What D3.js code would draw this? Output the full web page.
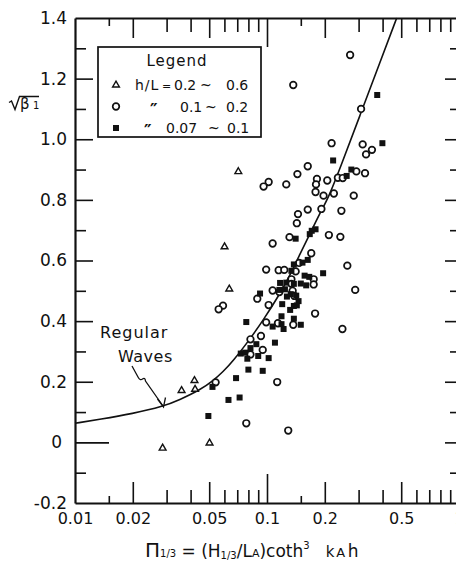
<!DOCTYPE html>
<html>
<head>
<meta charset="utf-8">
<script src="https://cdn.jsdelivr.net/npm/d3@7"></script>
<style>
  html, body { margin: 0; padding: 0; background: #fff; }
  svg text { font-family: "DejaVu Sans", sans-serif; fill: #111; }
</style>
</head>
<body>
<svg id="chart" width="456" height="562"></svg>
<script>
// ---- data: [Π1/3, √β1] -------------------------------------------------
// h/L = 0.2 ~ 0.6
const trianglePts = [
  [0.0709, 0.893], [0.0601, 0.645], [0.0636, 0.506], [0.0419, 0.204],
  [0.0359, 0.171], [0.0422, 0.175], [0.0502, -0.002], [0.0286, -0.019]
];
// h/L = 0.1 ~ 0.2
const circlePts = [
  [0.271, 1.278], [0.137, 1.179], [0.309, 1.100], [0.217, 0.987], [0.315, 0.983],
  [0.352, 0.965], [0.328, 0.950], [0.163, 0.911], [0.144, 0.885], [0.292, 0.894],
  [0.324, 0.888], [0.234, 0.873], [0.248, 0.872], [0.102, 0.859], [0.096, 0.844],
  [0.126, 0.851], [0.182, 0.869], [0.180, 0.851], [0.206, 0.864], [0.179, 0.826],
  [0.197, 0.814], [0.223, 0.821], [0.283, 0.814], [0.145, 0.753], [0.163, 0.768],
  [0.192, 0.770], [0.244, 0.764], [0.143, 0.723], [0.131, 0.677], [0.210, 0.684],
  [0.241, 0.678], [0.107, 0.656], [0.170, 0.624], [0.147, 0.592], [0.262, 0.583],
  [0.099, 0.570], [0.115, 0.568], [0.123, 0.569], [0.141, 0.564], [0.175, 0.538],
  [0.175, 0.521], [0.134, 0.538], [0.134, 0.523], [0.288, 0.503], [0.107, 0.501],
  [0.116, 0.496], [0.136, 0.500], [0.089, 0.474], [0.139, 0.483], [0.059, 0.451],
  [0.056, 0.439], [0.102, 0.453], [0.178, 0.425], [0.099, 0.396], [0.114, 0.393],
  [0.137, 0.388], [0.247, 0.374], [0.093, 0.351], [0.082, 0.340], [0.095, 0.305],
  [0.082, 0.290], [0.054, 0.198], [0.113, 0.199], [0.078, 0.063], [0.129, 0.039]
];
// h/L = 0.07 ~ 0.1
const squarePts = [
  [0.375, 1.146], [0.399, 0.987], [0.221, 0.930], [0.275, 0.900], [0.260, 0.879],
  [0.179, 0.703], [0.171, 0.698], [0.167, 0.687], [0.141, 0.672], [0.163, 0.602],
  [0.153, 0.593], [0.138, 0.587], [0.134, 0.566], [0.196, 0.558], [0.157, 0.550],
  [0.166, 0.546], [0.117, 0.526], [0.126, 0.527], [0.150, 0.524], [0.160, 0.518],
  [0.138, 0.523], [0.116, 0.503], [0.124, 0.505], [0.133, 0.489], [0.142, 0.484],
  [0.092, 0.491], [0.127, 0.481], [0.146, 0.466], [0.143, 0.452], [0.138, 0.450],
  [0.120, 0.456], [0.132, 0.437], [0.119, 0.416], [0.138, 0.408], [0.078, 0.397],
  [0.107, 0.382], [0.119, 0.390], [0.122, 0.374], [0.150, 0.388], [0.088, 0.324],
  [0.110, 0.329], [0.073, 0.293], [0.077, 0.296], [0.082, 0.311], [0.079, 0.276],
  [0.090, 0.285], [0.102, 0.278], [0.080, 0.240], [0.095, 0.236], [0.069, 0.212],
  [0.052, 0.183], [0.063, 0.140], [0.072, 0.148], [0.0495, 0.087]
];
// regular-wave curve
const regularPi   = [0.01, 0.0135, 0.0200, 0.0287, 0.0352, 0.0448, 0.0523, 0.0590, 0.0665, 0.0816,
                     0.0953, 0.1169, 0.1350, 0.1486, 0.1675, 0.1888, 0.2086, 0.2400, 0.3051, 0.3877, 0.4738];
const regularBeta = [0.063, 0.076, 0.095, 0.118, 0.141, 0.173, 0.203, 0.233, 0.268, 0.341,
                     0.402, 0.490, 0.565, 0.622, 0.688, 0.757, 0.806, 0.904, 1.079, 1.254, 1.400];

// ---- ticks --------------------------------------------------------------
const xLabelValues = [0.01, 0.02, 0.05, 0.1, 0.2, 0.5, 1];
const xLabels      = ["0.01", "0.02", "0.05", "0.1", "0.2", "0.5", "1"];
const xDecade  = [0.1];
const xHalf    = [0.02, 0.05, 0.2, 0.5];
const xMinor   = [0.03, 0.04, 0.06, 0.07, 0.08, 0.09, 0.3, 0.4, 0.6, 0.7, 0.8, 0.9];
const xQuarter = [0.015, 0.15];
const yLabelValues = [-0.2, 0, 0.2, 0.4, 0.6, 0.8, 1.0, 1.2, 1.4];
const yLabels      = ["-0.2", "0", "0.2", "0.4", "0.6", "0.8", "1.0", "1.2", "1.4"];
const yMajor = [0.2, 0.4, 0.6, 0.8, 1.0, 1.2];
const yMinor = [-0.1, 0.1, 0.3, 0.5, 0.7, 0.9, 1.1, 1.3];

// ---- legend text --------------------------------------------------------
const legendTitle = "Legend";
const legendKinds = ["triangle", "circle", "square"];
const legendParts = [
  ["h/L", "=", "0.2", "~", "0.6"],
  ["\u2033", "0.1", "~", "0.2"],
  ["\u2033", "0.07", "~", "0.1"]
];

// ---- drawing ------------------------------------------------------------
const ink = "#111";
const svg = d3.select("#chart");
const plotL = 75, plotR = 459, plotT = 18, plotB = 503;

const x = d3.scaleLog().domain([0.01, 1]).range([plotL, plotR]);
const y = d3.scaleLinear().domain([-0.2, 1.4]).range([plotB, plotT]);

function tickSet(gen, transform, values, len) {
  const g = svg.append("g").attr("transform", transform)
    .call(gen.tickValues(values).tickSize(-len).tickSizeOuter(0).tickFormat(""));
  g.select(".domain").remove();
  g.selectAll(".tick line").attr("stroke", ink).attr("stroke-width", 1.6);
  g.selectAll(".tick text").remove();
}

// inward tick marks on all four sides
tickSet(d3.axisBottom(x), `translate(0,${plotB})`, xDecade, 29);
tickSet(d3.axisBottom(x), `translate(0,${plotB})`, xHalf, 21);
tickSet(d3.axisBottom(x), `translate(0,${plotB})`, xMinor, 13);
tickSet(d3.axisBottom(x), `translate(0,${plotB})`, xQuarter, 7);
tickSet(d3.axisTop(x), `translate(0,${plotT})`, xDecade, 29);
tickSet(d3.axisTop(x), `translate(0,${plotT})`, xHalf, 20);
tickSet(d3.axisTop(x), `translate(0,${plotT})`, xMinor, 14);
tickSet(d3.axisTop(x), `translate(0,${plotT})`, xQuarter, 8);
tickSet(d3.axisLeft(y), `translate(${plotL},0)`, [0], 34);
tickSet(d3.axisLeft(y), `translate(${plotL},0)`, yMajor, 18);
tickSet(d3.axisLeft(y), `translate(${plotL},0)`, yMinor, 11);
tickSet(d3.axisRight(y), `translate(${plotR},0)`, yMajor.concat([0]), 14);
tickSet(d3.axisRight(y), `translate(${plotR},0)`, yMinor, 9);

// frame lines + tick labels
function frame(gen, transform, values, labels, pad, size) {
  const g = svg.append("g").attr("transform", transform)
    .call(gen.tickValues(values).tickFormat((d, i) => labels ? labels[i] : "")
      .tickSize(0).tickSizeOuter(0).tickPadding(pad));
  g.attr("font-family", null).attr("font-size", null);
  g.select(".domain").attr("stroke", ink).attr("stroke-width", 2.2);
  g.selectAll(".tick text").style("font-size", size + "px");
  if (!labels) g.selectAll(".tick text").remove();
  return g;
}
frame(d3.axisBottom(x), `translate(0,${plotB})`, xLabelValues, xLabels, 10, 16);
frame(d3.axisTop(x), `translate(0,${plotT})`, xLabelValues, null, 0, 16);
const yAxisG = frame(d3.axisLeft(y), `translate(${plotL},0)`, yLabelValues, yLabels, 8, 17);
yAxisG.selectAll(".tick text").filter(d => d === 0).attr("x", -13);
frame(d3.axisRight(y), `translate(${plotR},0)`, yLabelValues, null, 0, 16);

// regular-wave curve (smoothed B-spline through the read-off points)
const curvePts = regularPi.map((p, i) => [p, regularBeta[i]]);
svg.append("path")
  .datum(curvePts)
  .attr("fill", "none").attr("stroke", ink).attr("stroke-width", 1.6)
  .attr("d", d3.line().x(d => x(d[0])).y(d => y(d[1])).curve(d3.curveBasis));

// marker painters
const triPath = d3.symbol(d3.symbolTriangle, 20)();
function paint(g, kind, data) {
  if (kind === "circle") {
    g.selectAll("circle").data(data).join("circle")
      .attr("cx", d => d[0]).attr("cy", d => d[1]).attr("r", 3.3)
      .attr("fill", "#fff").attr("stroke", ink).attr("stroke-width", 1.7);
  } else if (kind === "square") {
    g.selectAll("rect").data(data).join("rect")
      .attr("x", d => d[0] - 3).attr("y", d => d[1] - 3)
      .attr("width", 6).attr("height", 6).attr("fill", ink);
  } else {
    g.selectAll("path").data(data).join("path")
      .attr("transform", d => `translate(${d[0]},${d[1]})`)
      .attr("d", triPath)
      .attr("fill", "#fff").attr("stroke", ink).attr("stroke-width", 1.4)
      .attr("stroke-linejoin", "miter");
  }
}
const toPx = arr => arr.map(d => [x(d[0]), y(d[1])]);
paint(svg.append("g"), "circle", toPx(circlePts));
paint(svg.append("g"), "square", toPx(squarePts));
paint(svg.append("g"), "triangle", toPx(trianglePts));

// legend
const lg = svg.append("g");
lg.append("rect").attr("x", 98).attr("y", 47).attr("width", 163).attr("height", 90)
  .attr("fill", "#fff").attr("stroke", ink).attr("stroke-width", 1.7);
lg.append("text").attr("x", 177).attr("y", 66).attr("text-anchor", "middle")
  .style("font-size", "15px").style("letter-spacing", "1px").text(legendTitle);
const rowY = [85, 106.5, 128];
const rowX = [[135, 162, 174, 200, 226], [150, 180, 205, 226], [144, 166, 208, 227]];
legendKinds.forEach((k, i) => {
  paint(lg.append("g"), k, [[116, rowY[i]]]);
  legendParts[i].forEach((t, j) => {
    const ditto = t === "\u2033";
    lg.append("text").attr("x", rowX[i][j]).attr("y", rowY[i] + (ditto ? 9 : 5))
      .style("font-size", ditto ? "17px" : (t === "=" ? "11px" : "14px"))
      .style("font-weight", ditto ? "bold" : "normal")
      .style("letter-spacing", t === "h/L" ? "1px" : "0px")
      .text(t);
  });
});

// y-axis label: radical over β1
svg.append("path").attr("d", "M9,102.5 L11.5,101 L15,109.5 L19.5,96.5 L39,96.5")
  .attr("fill", "none").attr("stroke", ink).attr("stroke-width", 1.4);
svg.append("text").attr("x", 20).attr("y", 108.5).style("font-size", "15px").text("β");
svg.append("text").attr("x", 33).attr("y", 108.5).style("font-size", "10px").text("1");

// x-axis title
const title = svg.append("text").attr("x", 145).attr("y", 557).style("font-size", "17px");
title.append("tspan").style("font-size", "20px").text("Π");
title.append("tspan").style("font-size", "10px").text("1/3");
title.append("tspan").text(" = (H");
title.append("tspan").style("font-size", "10px").attr("dy", 2).text("1/3");
title.append("tspan").attr("dy", -2).text("/L");
title.append("tspan").style("font-size", "11px").text("A");
title.append("tspan").text(")coth");
title.append("tspan").style("font-size", "10px").attr("dy", -8).text("3");
title.append("tspan").attr("dy", 8).attr("dx", 16).style("font-size", "15px")
  .style("letter-spacing", "2px").text("k");
title.append("tspan").style("font-size", "13px").style("letter-spacing", "2.5px").text("A");
title.append("tspan").text("h");

// annotation: Regular Waves with arrow to curve
svg.append("text").attr("x", 100).attr("y", 338).style("font-size", "16px")
  .style("letter-spacing", "1px").text("Regular");
svg.append("text").attr("x", 118).attr("y", 362).style("font-size", "16px")
  .style("letter-spacing", "0.5px").text("Waves");
svg.append("path")
  .attr("d", "M132,366 L138,377 Q140,381 142.5,379 Q145,377 145.5,381 L163,406")
  .attr("fill", "none").attr("stroke", ink).attr("stroke-width", 1.3);
svg.append("path").attr("d", "M157.5,399 L163.5,407 L165.5,397.5")
  .attr("fill", "none").attr("stroke", ink).attr("stroke-width", 1.3);
</script>
</body>
</html>
